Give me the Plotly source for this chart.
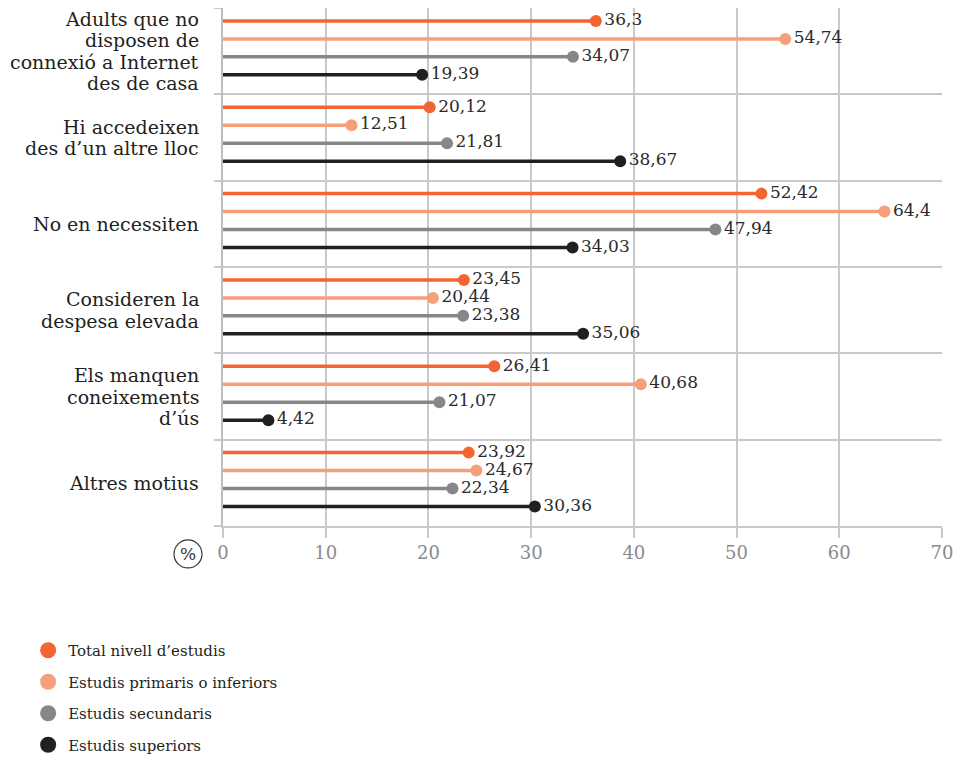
import plotly.graph_objects as go

categories = [
    "Adults que no\ndisposen de\nconnexió a Internet\ndes de casa",
    "Hi accedeixen\ndes d’un altre lloc",
    "No en necessiten",
    "Consideren la\ndespesa elevada",
    "Els manquen\nconeixements\nd’ús",
    "Altres motius",
]
series_names = [
    "Total nivell d’estudis",
    "Estudis primaris o inferiors",
    "Estudis secundaris",
    "Estudis superiors",
]
total = [36.3, 20.12, 52.42, 23.45, 26.41, 23.92]
primaris = [54.74, 12.51, 64.4, 20.44, 40.68, 24.67]
secundaris = [34.07, 21.81, 47.94, 23.38, 21.07, 22.34]
superiors = [19.39, 38.67, 34.03, 35.06, 4.42, 30.36]
x_ticks = [0, 10, 20, 30, 40, 50, 60, 70]

series_values = [total, primaris, secundaris, superiors]
colors = ["#F26532", "#F5A07A", "#87878B", "#231F20"]

FONT = "DejaVu Serif"
GRID = "#C9C9CD"

fig = go.Figure()

n_cat = len(categories)
for s, (name, vals, col) in enumerate(zip(series_names, series_values, colors)):
    ys = [c + 0.15 + s * 0.208 for c in range(n_cat)]
    lx, ly = [], []
    for v, y in zip(vals, ys):
        lx += [0, v, None]
        ly += [y, y, None]
    fig.add_trace(go.Scatter(
        x=lx, y=ly, mode="lines", line=dict(color=col, width=3.5),
        showlegend=False, hoverinfo="skip"))
    fig.add_trace(go.Scatter(
        x=vals, y=ys, mode="markers+text",
        marker=dict(color=col, size=12),
        text=[str(v).replace(".", ",") for v in vals],
        textposition="middle right",
        textfont=dict(family=FONT, size=17, color="#2A2A2A"),
        cliponaxis=False, showlegend=False, hoverinfo="skip"))
    # legend entry
    fig.add_trace(go.Scatter(
        x=[None], y=[None], mode="markers", name=name,
        marker=dict(color=col, size=20), legendgroup=f"g{s}",
        showlegend=True))

# category labels (one annotation per line for tight leading)
LINE = 21.5
for c, label in enumerate(categories):
    lines = label.split("\n")
    n = len(lines)
    for i, ln in enumerate(lines):
        fig.add_annotation(
            x=-0.03, xref="paper", y=c + 0.5, yref="y",
            text=ln, showarrow=False, xanchor="right", yanchor="middle",
            yshift=((n - 1) / 2 - i) * LINE,
            font=dict(family=FONT, size=19, color="#231F20"))

# circled percent sign
px_x, px_y = -0.0487, -0.054
fig.add_annotation(x=px_x, y=px_y, xref="paper", yref="paper", text="%",
                   showarrow=False, xanchor="center", yanchor="middle",
                   font=dict(family=FONT, size=17, color="#333333"))
fig.add_shape(type="circle", xref="paper", yref="paper",
              xsizemode="pixel", ysizemode="pixel",
              xanchor=px_x, yanchor=px_y, x0=-14, x1=14, y0=-14, y1=14,
              line=dict(color="#333333", width=1.2))

fig.update_xaxes(
    range=[0, 70], tickvals=x_ticks, showgrid=True, gridcolor=GRID, gridwidth=1.5,
    zeroline=False, showline=True, linecolor=GRID, linewidth=1.5, mirror=True,
    ticks="outside", ticklen=10, tickcolor=GRID, tickwidth=1.5,
    tickfont=dict(family=FONT, size=18, color="#8A8A8E"), fixedrange=True)
fig.update_yaxes(
    range=[n_cat, 0], tickvals=list(range(n_cat + 1)), showticklabels=False,
    showgrid=True, gridcolor=GRID, gridwidth=1.5, zeroline=False,
    showline=True, linecolor="#BDBDC2", linewidth=2,
    ticks="outside", ticklen=7, tickcolor=GRID, tickwidth=1.5, fixedrange=True)

fig.update_layout(
    width=954, height=752,
    margin=dict(l=215, r=20, t=0, b=234, autoexpand=False),
    plot_bgcolor="white", paper_bgcolor="white",
    font=dict(family=FONT),
    legend=dict(x=-0.271, xanchor="left", y=-0.2085, yanchor="top",
                traceorder="grouped", tracegroupgap=9,
                font=dict(family=FONT, size=15, color="#231F20"),
                bgcolor="rgba(0,0,0,0)"),
    showlegend=True,
)

fig.write_html("out.html")
